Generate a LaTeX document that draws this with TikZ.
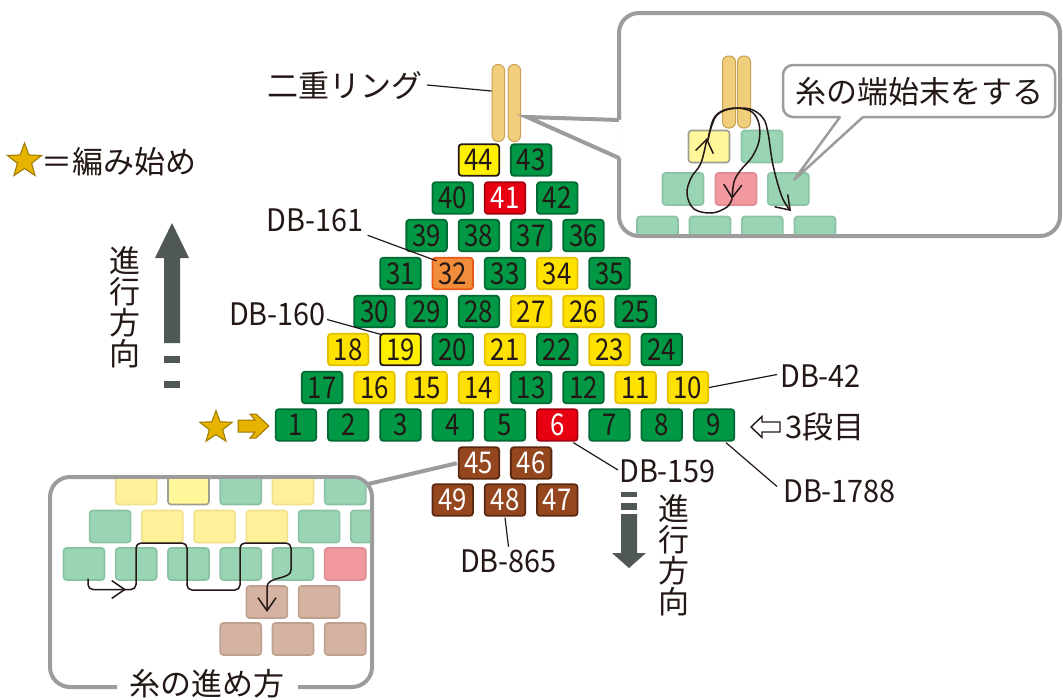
\documentclass[tikz,border=0pt]{standalone}
\usepackage{fontspec}
\setmainfont{Noto Sans CJK JP}
\newfontfamily\nf[FakeStretch=0.86]{Noto Sans CJK JP}
\newfontfamily\lf[FakeStretch=0.93]{Noto Sans CJK JP}
\usetikzlibrary{shapes.geometric,arrows.meta,calc}
\definecolor{ink}{HTML}{231815}
\definecolor{bgreen}{HTML}{009844}
\definecolor{bgreenD}{HTML}{006934}
\definecolor{byellow}{HTML}{FFE100}
\definecolor{byellowD}{HTML}{E3C000}
\definecolor{bbright}{HTML}{FFF000}
\definecolor{bred}{HTML}{E60012}
\definecolor{bredD}{HTML}{A40010}
\definecolor{borange}{HTML}{F08C3A}
\definecolor{borangeD}{HTML}{E85A1A}
\definecolor{bbrown}{HTML}{94461E}
\definecolor{bbrownD}{HTML}{5A2810}
\definecolor{pgreen}{HTML}{99D4B4}
\definecolor{pgreenD}{HTML}{8CC2A4}
\definecolor{pyellow}{HTML}{FFF09A}
\definecolor{pyellowD}{HTML}{F2E08C}
\definecolor{pyb}{HTML}{FFF799}
\definecolor{pybD}{HTML}{9E9E8E}
\definecolor{ppink}{HTML}{F2999F}
\definecolor{ppinkD}{HTML}{E08C92}
\definecolor{pbrown}{HTML}{D4B3A2}
\definecolor{pbrownD}{HTML}{BFA08E}
\definecolor{capfill}{HTML}{F0CE7C}
\definecolor{capD}{HTML}{C9A054}
\definecolor{frameG}{HTML}{9C9C9C}
\definecolor{arrowG}{HTML}{4F5856}
\definecolor{gold}{HTML}{E6B400}
\definecolor{goldD}{HTML}{9C7800}
\tikzset{
  bead/.style={draw, rounded corners=3pt, line width=1.8pt, minimum width=40.5pt,
    minimum height=31.5pt, inner sep=0pt, font=\nf\fontsize{30}{30}\selectfont, text=ink},
  gbead/.style={bead, fill=bgreen, draw=bgreenD},
  ybead/.style={bead, fill=byellow, draw=byellowD},
  kbead/.style={bead, fill=bbright, draw=ink},
  rbead/.style={bead, fill=bred, draw=bredD, text=white},
  obead/.style={bead, fill=borange, draw=borangeD},
  nbead/.style={bead, fill=bbrown, draw=bbrownD, text=white},
  pale/.style={line width=1.6pt, rounded corners=3pt},
  pg/.style={pale, fill=pgreen, draw=pgreenD},
  py/.style={pale, fill=pyellow, draw=pyellowD},
  pk/.style={pale, fill=pyb, draw=pybD},
  pr/.style={pale, fill=ppink, draw=ppinkD},
  pn/.style={pale, fill=pbrown, draw=pbrownD},
  ring/.style={draw=capD, fill=capfill, line width=1pt, rounded corners=6pt,
    minimum width=12.5pt, minimum height=77pt, inner sep=0pt},
  lab/.style={font=\lf\fontsize{31}{31}\selectfont, text=ink, inner sep=1pt},
  jp/.style={font=\fontsize{31}{31}\selectfont, text=ink, inner sep=0pt},
  leader/.style={draw=ink, line width=1.2pt},
  frame/.style={draw=frameG, line width=4pt},
  callout/.style={draw=frameG, line width=2.5pt},
  thread/.style={draw=ink, line width=1.5pt, line cap=round, line join=round},
  barb/.style={-{Straight Barb[length=13pt,width=18pt,line width=1.5pt]}},
  goldstar/.style={star, star points=5, star point ratio=2.4, inner sep=0pt,
    fill=gold, draw=goldD, line width=1pt},
}
\newcommand{\pb}[3]{\draw[#3] ({#1-20.5},{#2-16}) rectangle ({#1+20.5},{#2+16});}
\begin{document}
\begin{tikzpicture}[x=1pt,y=-1pt]
\useasboundingbox (0,0) rectangle (1063,699);

% ---------- legend ----------
\node[goldstar, minimum size=36pt] (st1) at (24.5,161) {};
\node[jp, anchor=west] (legend) at (41,162) {＝編み始め};

% ---------- up direction arrow ----------
\fill[arrowG] (172,223) -- (189,258) -- (180,258) -- (180,343) -- (164,343) -- (164,258) -- (155,258) -- cycle;
\fill[arrowG] (164,356) rectangle (180,363);
\fill[arrowG] (164,381) rectangle (180,388);
\node[jp, align=center] (dirup) at (125,307) {進\\行\\方\\向};

% ---------- down direction arrow ----------
\fill[arrowG] (621,492) rectangle (637,497);
\fill[arrowG] (621,503) rectangle (637,510);
\fill[arrowG] (621,514) -- (637,514) -- (637,553) -- (646,553) -- (629,568) -- (612,553) -- (621,553) -- cycle;
\node[jp, align=center] (dirdown) at (674,555) {進\\行\\方\\向};

% ---------- ring ----------
\node[ring] (r1) at (498.3,103) {};
\node[ring] (r2) at (514.3,103) {};
\node[jp, anchor=east] (lring) at (423,86) {二重リング};
\draw[leader] ($(lring.east)+(4,-1)$) -- ($(r1.west)+(0,-12)$);

% ---------- main beads ----------
% row 8
\node[kbead] (b44) at (478.9,160) {44};
\node[gbead] (b43) at (531.1,160) {43};
% row 7
\node[gbead] (b40) at (452.75,198) {40};
\node[rbead] (b41) at (505,198) {41};
\node[gbead] (b42) at (557.25,198) {42};
% row 6
\node[gbead] (b39) at (426.6,235.5) {39};
\node[gbead] (b38) at (478.9,235.5) {38};
\node[gbead] (b37) at (531.1,235.5) {37};
\node[gbead] (b36) at (583.4,235.5) {36};
% row 5
\node[gbead] (b31) at (400.5,273.5) {31};
\node[obead] (b32) at (452.75,273.5) {32};
\node[gbead] (b33) at (505,273.5) {33};
\node[ybead] (b34) at (557.25,273.5) {34};
\node[gbead] (b35) at (609.5,273.5) {35};
% row 4
\node[gbead] (b30) at (374.4,311.5) {30};
\node[gbead] (b29) at (426.6,311.5) {29};
\node[gbead] (b28) at (478.9,311.5) {28};
\node[ybead] (b27) at (531.1,311.5) {27};
\node[ybead] (b26) at (583.4,311.5) {26};
\node[gbead] (b25) at (635.6,311.5) {25};
% row 3
\node[ybead] (b18) at (348.25,349.5) {18};
\node[kbead] (b19) at (400.5,349.5) {19};
\node[gbead] (b20) at (452.75,349.5) {20};
\node[ybead] (b21) at (505,349.5) {21};
\node[gbead] (b22) at (557.25,349.5) {22};
\node[ybead] (b23) at (609.5,349.5) {23};
\node[gbead] (b24) at (661.75,349.5) {24};
% row 2
\node[gbead] (b17) at (322.1,387.5) {17};
\node[ybead] (b16) at (374.4,387.5) {16};
\node[ybead] (b15) at (426.6,387.5) {15};
\node[ybead] (b14) at (478.9,387.5) {14};
\node[gbead] (b13) at (531.1,387.5) {13};
\node[gbead] (b12) at (583.4,387.5) {12};
\node[ybead] (b11) at (635.6,387.5) {11};
\node[ybead] (b10) at (687.9,387.5) {10};
% row 1
\node[gbead] (b1) at (296,425) {1};
\node[gbead] (b2) at (348.25,425) {2};
\node[gbead] (b3) at (400.5,425) {3};
\node[gbead] (b4) at (452.75,425) {4};
\node[gbead] (b5) at (505,425) {5};
\node[rbead] (b6) at (557.25,425) {6};
\node[gbead] (b7) at (609.5,425) {7};
\node[gbead] (b8) at (661.75,425) {8};
\node[gbead] (b9) at (714,425) {9};
% below
\node[nbead] (b45) at (478.9,463) {45};
\node[nbead] (b46) at (531.1,463) {46};
\node[nbead] (b49) at (452.75,500) {49};
\node[nbead] (b48) at (505,500) {48};
\node[nbead] (b47) at (557.25,500) {47};

% ---------- start marker ----------
\node[goldstar, minimum size=34pt] (st2) at (216,427.5) {};
\draw[fill=gold, draw=goldD, line width=1pt, line join=miter]
  (238,420) -- (255,420) -- (250,414) -- (256,414) -- (269,426) -- (256,438) -- (250,438) -- (255,432) -- (238,432) -- cycle;

% ---------- 3rd row mark ----------
\draw[draw=ink, fill=white, line width=1.4pt, line join=miter]
  (751,427) -- (762,416.5) -- (762,422) -- (780,422) -- (780,432) -- (762,432) -- (762,437.5) -- cycle;
\node[jp, anchor=west] (row3) at (785,427) {3段目};

% ---------- labels ----------
\node[lab] (l161) at (315,220.5) {DB-161};
\node[lab] (l160) at (277.5,314.5) {DB-160};
\node[lab, anchor=west] (l42) at (779,376.5) {DB-42};
\node[lab, anchor=west] (l159) at (618,471) {DB-159};
\node[lab, anchor=west] (l1788) at (782,491.5) {DB-1788};
\node[lab] (l865) at (508.5,561.5) {DB-865};
\draw[leader] ($(l161.south east)+(3,2)$) -- ($(b32.north west)+(5,4)$);
\draw[leader] ($(l160.east)+(0,5)$) -- ($(b19.north west)+(3,2)$);
\draw[leader] (b10.east) -- ($(l42.west)+(-2,-2)$);
\draw[leader] ($(b6.south east)+(-5,1)$) -- ($(l159.west)+(0,-1)$);
\draw[leader] ($(b9.south)+(12,1)$) -- ($(l1788.west)+(-5,-5)$);
\draw[leader] ($(b48.south)+(0,1)$) -- ($(l865.north)+(0,-2)$);

% ---------- top-right inset ----------
\draw[frame, fill=white, rounded corners=20] (619,13) rectangle (1060,236);
\fill[white] (621.5,120) -- (527,117) -- (621.5,158) -- cycle;
\draw[frame, line join=miter] (619,120) -- (527,117) -- (619,158);
\begin{scope}
  \clip[rounded corners=18] (621,15) rectangle (1058,234);
  \pb{709}{146.5}{pk}
  \pb{762}{146.5}{pg}
  \pb{683}{189}{pg}
  \pb{736}{189}{pr}
  \pb{788.3}{189}{pg}
  \pb{657.5}{232.5}{pg}
  \pb{710}{232.5}{pg}
  \pb{762.3}{232.5}{pg}
  \pb{815}{232.5}{pg}
  \draw[draw=capD, fill=capfill, line width=1pt, rounded corners=6pt] (722.5,56) rectangle (735.5,128);
  \draw[draw=capD, fill=capfill, line width=1pt, rounded corners=6pt] (737.5,56) rectangle (750.5,128);
  \draw[thread, barb] plot[smooth, tension=0.6] coordinates {(708,140) (713,120) (722,111) (737,108) (752,112) (759,124) (759,141) (752,157) (740,171) (734,182) (732,199)};
  \draw[thread, barb] plot[smooth, tension=0.6] coordinates {(732,199) (727,207) (712,213) (694,209) (687,194) (691,178) (701,163) (707,138)};
  \draw[thread, barb] plot[smooth, tension=0.6] coordinates {(708,140) (711,128) (717,115) (730,109) (750,109) (763,118) (768,133) (773,165) (782,197) (791,211)};
\end{scope}
% callout
\draw[callout, fill=white, rounded corners=10] (783,65) rectangle (1055,117);
\fill[white] (840.5,114) -- (862.5,114) -- (862.5,118) -- (794,180) -- (840.5,118) -- cycle;
\draw[callout, line join=miter] (840,117) -- (794,180) -- (863,117);
\node[jp] (callt) at (919,92) {糸の端始末をする};

% ---------- bottom-left inset ----------
\draw[frame, rounded corners=20] (117,687) -- (50,687) -- (50,477) -- (372,477) -- (372,687) -- (298,687);
\draw[frame, shorten >=1pt] (368,484) -- (b45.west);
\begin{scope}
  \clip[rounded corners=18] (52,479) rectangle (370,685);
  % row 3 copy
  \pb{136.25}{488.5}{py}
  \pb{188.5}{488.5}{pk}
  \pb{240.75}{488.5}{pg}
  \pb{293}{488.5}{py}
  \pb{345.25}{488.5}{pg}
  % row 2 copy
  \pb{110.1}{526.5}{pg}
  \pb{162.4}{526.5}{py}
  \pb{214.6}{526.5}{py}
  \pb{266.9}{526.5}{py}
  \pb{319.1}{526.5}{pg}
  \pb{371.4}{526.5}{pg}
  % row 1 copy
  \pb{84}{564}{pg}
  \pb{136.25}{564}{pg}
  \pb{188.5}{564}{pg}
  \pb{240.75}{564}{pg}
  \pb{293}{564}{pg}
  \pb{345.25}{564}{pr}
  % brown copy
  \pb{266.9}{602}{pn}
  \pb{319.1}{602}{pn}
  \pb{240.75}{639}{pn}
  \pb{293}{639}{pn}
  \pb{345.25}{639}{pn}
  \draw[thread, barb, rounded corners=5pt] (88,579) -- (88,589.5) -- (126,589.5);
  \draw[thread, barb, rounded corners=5pt] (124,589.5) -- (136,589.5) -- (136,543) -- (187,543) -- (187,590) -- (240,590) -- (240,543) -- (291,543) -- (291,565) .. controls (291,580) and (267,576) .. (267,592) -- (267,612);
\end{scope}
\node[jp] (howto) at (207,684) {糸の進め方};
\end{tikzpicture}
\end{document}
